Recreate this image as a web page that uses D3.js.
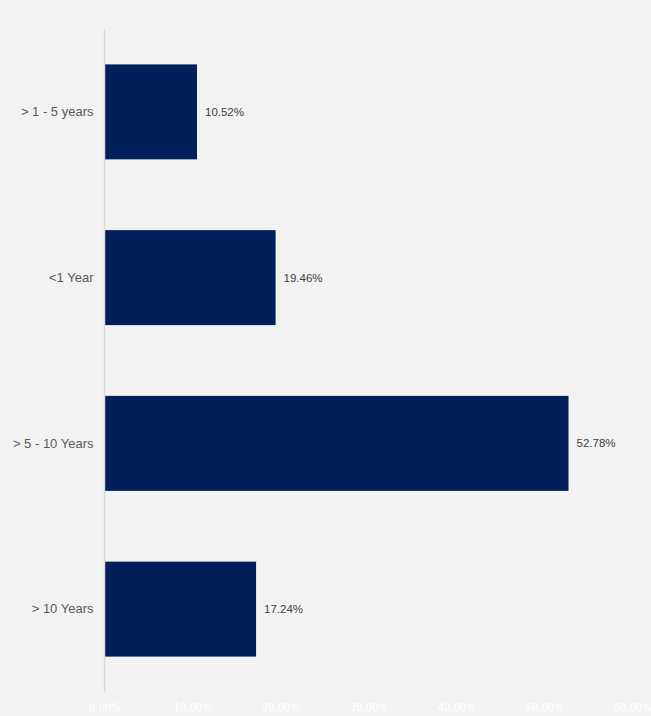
<!DOCTYPE html>
<html>
<head>
<meta charset="utf-8">
<script src="https://cdn.jsdelivr.net/npm/d3@7"></script>
<style>
  html, body { margin: 0; padding: 0; background: #f2f2f2; }
  svg { display: block; }
</style>
</head>
<body>
<svg id="chart" width="651" height="716"></svg>
<script>
// Tenure groups and their share of the total
const categories = ["> 1 - 5 years", "<1 Year", "> 5 - 10 Years", "> 10 Years"];
const shares = [10.52, 19.46, 52.78, 17.24];
const tickValues = [0, 10, 20, 30, 40, 50, 60];

const width = 651, height = 716;
const margin = { top: 29, right: 19, bottom: 24, left: 104.5 };

const svg = d3.select("#chart");
svg.append("rect").attr("width", width).attr("height", height).attr("fill", "#f2f2f2");

const x = d3.scaleLinear()
  .domain([0, 60])
  .range([margin.left, width - margin.right]);

const y = d3.scaleBand()
  .domain(categories)
  .range([margin.top, height - margin.bottom])
  .paddingInner(0.427)
  .paddingOuter(0.2135);

const data = categories.map((c, i) => ({ cat: c, value: shares[i] }));

// Bars
svg.append("g").selectAll("rect")
  .data(data)
  .join("rect")
  .attr("x", x(0))
  .attr("y", d => y(d.cat))
  .attr("width", d => x(d.value) - x(0))
  .attr("height", y.bandwidth())
  .attr("fill", "#001f5b");

// Vertical category axis line
svg.append("line")
  .attr("x1", x(0)).attr("x2", x(0))
  .attr("y1", margin.top).attr("y2", height - margin.bottom)
  .attr("stroke", "#d9d9d9")
  .attr("stroke-width", 1.5);

// Category labels
const yAxis = d3.axisLeft(y).tickSize(0).tickPadding(11);
const yg = svg.append("g")
  .attr("transform", `translate(${x(0)},0)`)
  .call(yAxis);
yg.select(".domain").remove();
yg.selectAll("text")
  .attr("fill", "#595959")
  .style("font-family", "'Liberation Sans', Arial, sans-serif")
  .style("font-size", "13px");

// Value labels
svg.append("g").selectAll("text")
  .data(data)
  .join("text")
  .attr("x", d => x(d.value) + 8)
  .attr("y", d => y(d.cat) + y.bandwidth() / 2)
  .attr("dy", "0.35em")
  .attr("fill", "#404040")
  .style("font-family", "'Liberation Sans', Arial, sans-serif")
  .style("font-size", "11.5px")
  .text(d => d.value.toFixed(2) + "%");

// Percentage axis (white labels)
const xAxis = d3.axisBottom(x)
  .tickValues(tickValues)
  .tickSize(0)
  .tickPadding(12)
  .tickFormat(d => d.toFixed(2) + "%");
const xg = svg.append("g")
  .attr("transform", `translate(0,${height - margin.bottom})`)
  .call(xAxis);
xg.select(".domain").remove();
xg.selectAll("text")
  .attr("fill", "#ffffff")
  .style("font-family", "'DejaVu Sans', sans-serif")
  .style("font-size", "10px");
</script>
</body>
</html>
